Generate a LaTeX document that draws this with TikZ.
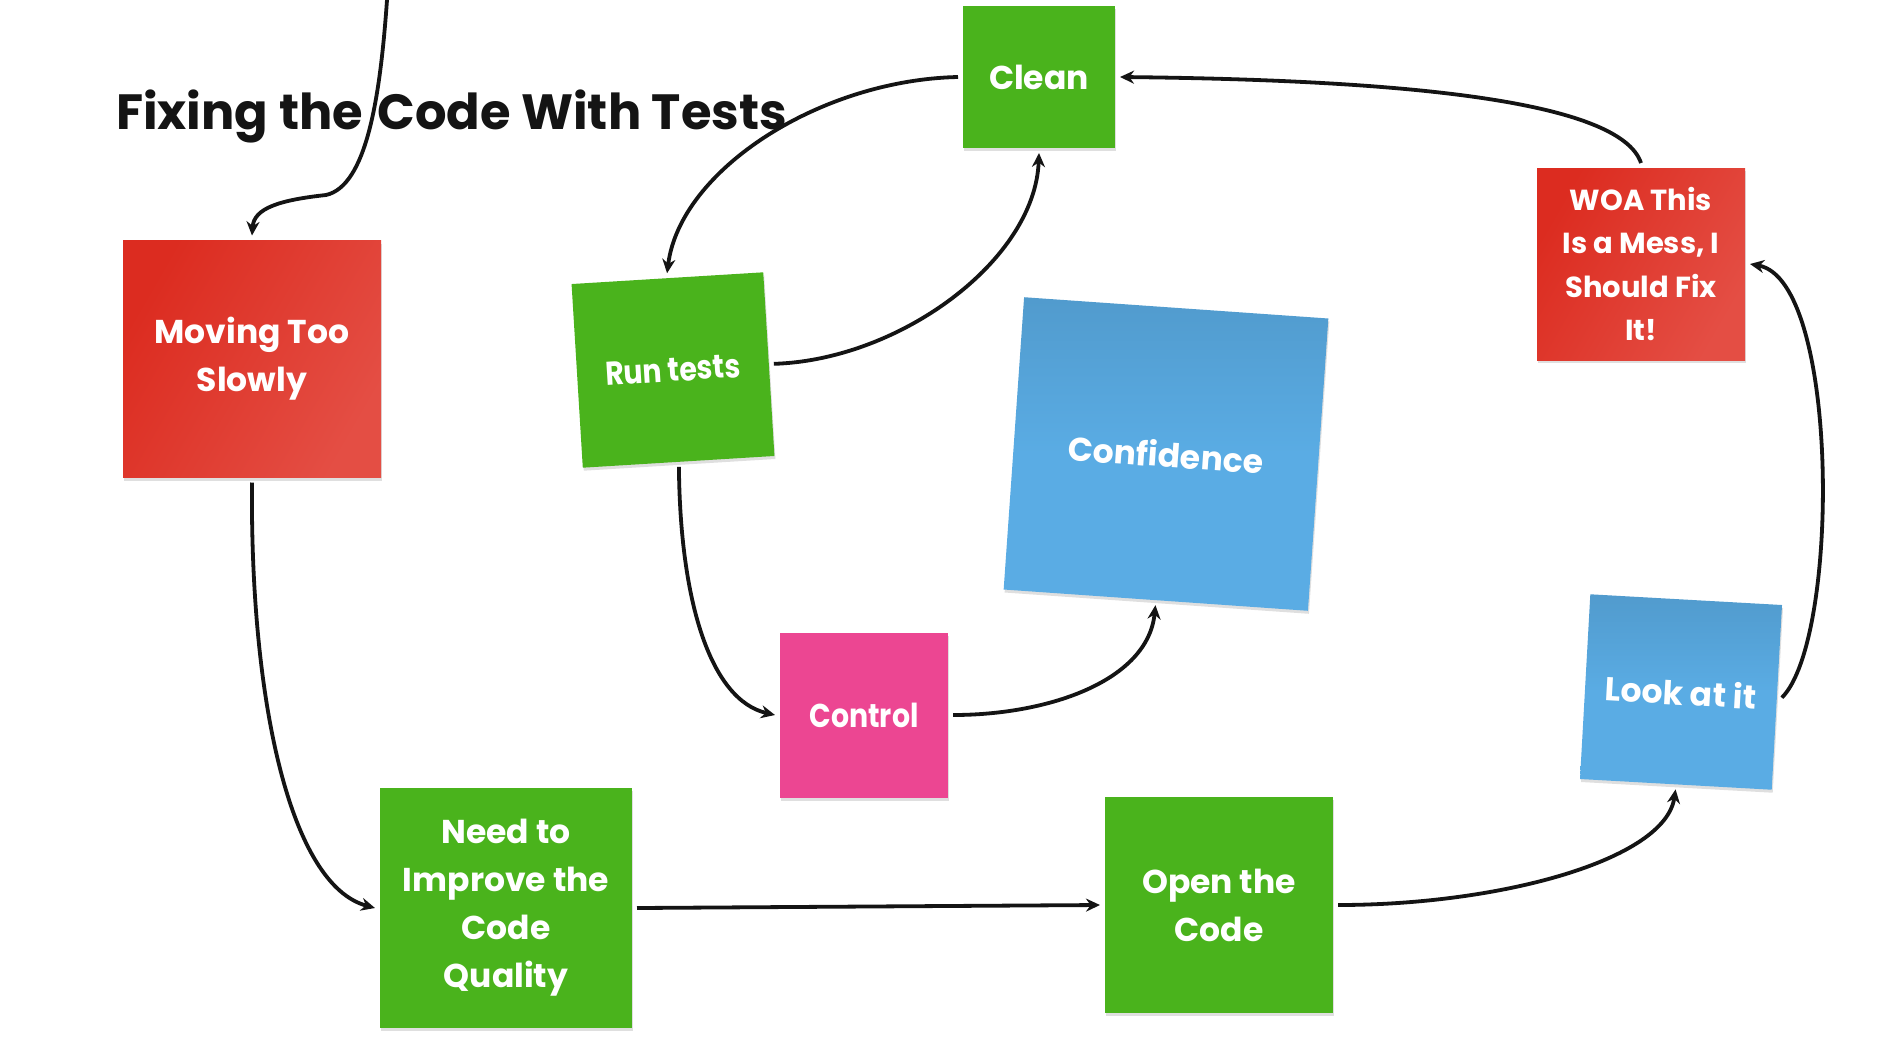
\documentclass[tikz,border=0pt]{standalone}
\usepackage{fontspec}
\newfontfamily\notefont{Poppins}
\newfontfamily\notenarrow[FakeStretch=0.86]{Poppins}
\usetikzlibrary{arrows.meta,shadows}

\definecolor{notegreen}{RGB}{74,179,28}
\definecolor{notered}{RGB}{220,44,32}
\definecolor{noteredlight}{RGB}{228,78,68}
\definecolor{noteblue}{RGB}{90,172,228}
\definecolor{notepink}{RGB}{236,70,146}
\definecolor{inkblack}{RGB}{20,20,20}

\tikzset{
  note/.style={rectangle, inner sep=0pt, outer sep=5pt, align=center, text=white,
    font=\notefont\bfseries\fontsize{33}{48}\selectfont,
    drop shadow={opacity=0.25, shadow xshift=1pt, shadow yshift=-3pt}},
  narrowtext/.style={font=\notenarrow\bfseries\fontsize{33}{48}\selectfont},
  greennote/.style={fill=notegreen},
  rednote/.style={left color=notered, right color=noteredlight, shading angle=60},
  bluenote/.style={top color=noteblue!90!black, bottom color=noteblue, middle color=noteblue},
  pinknote/.style={fill=notepink},
  arr/.style={-{Stealth[length=14pt,width=13pt]}, line width=3.8pt, draw=inkblack},
  title/.style={font=\notefont\bfseries\fontsize{49.5}{56}\selectfont, text=inkblack, inner sep=0pt}
}

\begin{document}
\begin{tikzpicture}[x=1pt,y=-1pt]
  \useasboundingbox[fill=white] (0,0) rectangle (1881,1050);
  \node[title, anchor=base west] (heading) at (116,129) {Fixing the\hspace{4pt} Code With Tests};
  \begin{scope}[every node/.style={note}]
    \node[rednote, minimum width=258pt, minimum height=237pt] (moving) at (252,359) {Moving Too\\Slowly};
    \node[greennote, narrowtext, minimum width=192pt, minimum height=184pt, rotate=3.5] (run) at (673,370) {Run tests};
    \node[greennote, minimum width=152pt, minimum height=142pt] (clean) at (1039,77) {Clean};
    \node[bluenote, minimum width=305pt, minimum height=293pt, rotate=-4] (confidence) at (1166,454) {Confidence};
    \node[rednote, minimum width=208pt, minimum height=192pt,
      font=\notefont\bfseries\fontsize{29}{43.5}\selectfont] (woa) at (1641,264) {WOA This\\Is a Mess, I\\Should Fix\\It!};
    \node[pinknote, narrowtext, minimum width=168pt, minimum height=165pt] (control) at (864,715) {Control};
    \node[bluenote, minimum width=192pt, minimum height=185pt, rotate=-3.2] (look) at (1681,692) {Look at it};
    \node[greennote, minimum width=252pt, minimum height=240pt] (need) at (506,908) {Need to\\Improve the\\Code\\Quality};
    \node[greennote, minimum width=228pt, minimum height=216pt] (open) at (1219,905) {Open the\\Code};
  \end{scope}
  \coordinate (entry) at (387,0);
  \begin{scope}[every path/.style={arr}]
    \draw (entry) .. controls (380,100) and (366,186) .. (326,195)
      .. controls (280,200) and (254,208) .. (moving.north);
    \draw (moving.south) .. controls (250,700) and (290,885) .. (need.west);
    \draw (need.east) -- (open.west);
    \draw (open.east) .. controls (1500,905) and (1665,860) .. (look.south);
    \draw (look.east) .. controls (1840,640) and (1840,280) .. (woa.east);
    \draw (woa.north) .. controls (1620,100) and (1400,80) .. (clean.east);
    \draw (clean.west) .. controls (820,80) and (680,170) .. (run.north);
    \draw (run.east) .. controls (900,360) and (1035,260) .. (clean.south);
    \draw (run.south) .. controls (680,600) and (710,700) .. (control.west);
    \draw (control.east) .. controls (1050,715) and (1148,680) .. (confidence.south);
  \end{scope}
\end{tikzpicture}
\end{document}
